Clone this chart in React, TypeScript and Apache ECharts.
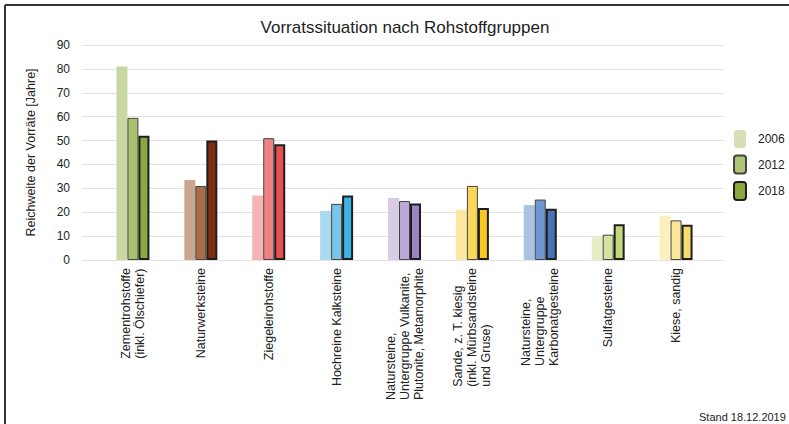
import React, { useEffect, useRef } from "react";
import * as echarts from "echarts";

const categories = [
  "Zementrohstoffe\n(inkl. Ölschiefer)",
  "Naturwerksteine",
  "Ziegeleirohstoffe",
  "Hochreine Kalksteine",
  "Natursteine,\nUntergruppe Vulkanite,\nPlutonite, Metamorphite",
  "Sande, z. T. kiesig\n(inkl. Mürbsandsteine\nund Gruse)",
  "Natursteine,\nUntergruppe\nKarbonatgesteine",
  "Sulfatgesteine",
  "Kiese, sandig",
];
const years = ["2006", "2012", "2018"];
const values2006 = [81, 33.5, 27, 20.5, 26, 21, 23, 9.5, 18.5];
const values2012 = [59.5, 31, 51, 23.5, 24.7, 31, 25.3, 10.6, 16.6];
const values2018 = [52, 50, 48.5, 27, 23.6, 21.8, 21.5, 15, 14.8];
const yTicks = [0, 10, 20, 30, 40, 50, 60, 70, 80, 90];

const colors2006 = ["#c8d8a4", "#c9a690", "#f5b4b5", "#abd9ef", "#d7cce4", "#fbe7a2", "#abc3e3", "#e7edc7", "#fbf1be"];
const colors2012 = ["#a9c06e", "#a96c4b", "#ef8182", "#79c5ea", "#bcaad6", "#f9d65c", "#7098d0", "#d4e1a0", "#f9e795"];
const colors2018 = ["#8aa83e", "#7d2e10", "#e84f50", "#3db3e6", "#9d84c5", "#f7c820", "#4573ba", "#c3d77b", "#f6dc6d"];

export default function App() {
  const ref = useRef<HTMLDivElement>(null);
  useEffect(() => {
    if (!ref.current) return;
    const chart = echarts.init(ref.current, undefined, { renderer: "svg" });
    const font = "'Liberation Sans', Arial, sans-serif";
    const mk = (vals: number[], cols: string[]) =>
      vals.map((v, i) => ({ value: v, itemStyle: { color: cols[i] } }));
    chart.setOption({
      animation: false,
      backgroundColor: "#ffffff",
      textStyle: { fontFamily: font },
      grid: [
        { left: 82, right: 66, top: 45, height: 215 },
        { left: 99, right: 79, top: 45, height: 215 },
      ],
      legend: {
        orient: "vertical",
        left: 728,
        top: 125,
        itemWidth: 12,
        itemHeight: 18,
        itemGap: 6.5,
        data: years,
        textStyle: { fontSize: 12, color: "#222", fontFamily: font, padding: [0, 0, 0, 7] },
      },
      xAxis: [
        { type: "value", gridIndex: 0, show: false, min: 0, max: 1 },
        {
          type: "category",
          gridIndex: 1,
          data: categories,
          axisLine: { show: false },
          axisTick: { show: false },
          axisLabel: {
            rotate: 90,
            margin: 8,
            fontSize: 12.5,
            lineHeight: 14,
            color: "#222",
            fontFamily: font,
            interval: 0,
            formatter: (v: string) =>
              v
                .split("\n")
                .map((s) => `{l|${s}}`)
                .join("\n"),
            rich: {
              l: { align: "left", fontSize: 12.5, lineHeight: 14, color: "#222", fontFamily: font },
            },
          },
        },
      ],
      yAxis: [
        {
          type: "value",
          gridIndex: 0,
          min: 0,
          max: 90,
          interval: 10,
          name: "Reichweite der Vorräte [Jahre]",
          nameLocation: "middle",
          nameRotate: 90,
          nameGap: 45,
          nameTextStyle: { fontSize: 12.5, color: "#222", fontFamily: font },
          axisLine: { show: false },
          axisTick: { show: false },
          axisLabel: {
            margin: 12,
            fontSize: 12,
            color: "#222",
            fontFamily: font,
            customValues: yTicks,
          },
          splitLine: { lineStyle: { color: "#e2e2e2", width: 1 } },
        },
        { type: "value", gridIndex: 1, min: 0, max: 90, show: false },
      ],
      series: [
        {
          name: years[0],
          type: "bar",
          xAxisIndex: 1,
          yAxisIndex: 1,
          barWidth: 11,
          barGap: "0%",
          itemStyle: { color: "#d6e0b4" },
          data: mk(values2006, colors2006),
        },
        {
          name: years[1],
          type: "bar",
          xAxisIndex: 1,
          yAxisIndex: 1,
          barWidth: 11,
          barGap: "0%",
          itemStyle: { color: "#b0c673", borderColor: "#444", borderWidth: 1 },
          data: mk(values2012, colors2012),
        },
        {
          name: years[2],
          type: "bar",
          xAxisIndex: 1,
          yAxisIndex: 1,
          barWidth: 11,
          barGap: "0%",
          itemStyle: { color: "#8aa83e", borderColor: "#1e1e1e", borderWidth: 2 },
          data: mk(values2018, colors2018),
        },
      ],
      graphic: [
        { type: "line", shape: { x1: 5, y1: 5, x2: 789, y2: 5 }, style: { stroke: "#333", lineWidth: 2 } },
        { type: "line", shape: { x1: 5, y1: 5, x2: 5, y2: 424 }, style: { stroke: "#333", lineWidth: 2 } },
        {
          type: "text",
          x: 405,
          y: 27,
          style: {
            text: "Vorratssituation nach Rohstoffgruppen",
            fontSize: 17,
            fontFamily: font,
            fill: "#222",
            align: "center",
            verticalAlign: "middle",
          },
        },
        {
          type: "text",
          x: 699,
          y: 417,
          style: {
            text: "Stand 18.12.2019",
            fontSize: 11,
            fontFamily: font,
            fill: "#222",
            align: "left",
            verticalAlign: "middle",
          },
        },
      ],
    });
    return () => chart.dispose();
  }, []);
  return (
    <div
      ref={ref}
      style={{ position: "fixed", left: 0, top: 0, width: 789, height: 424, background: "#fff" }}
    />
  );
}
